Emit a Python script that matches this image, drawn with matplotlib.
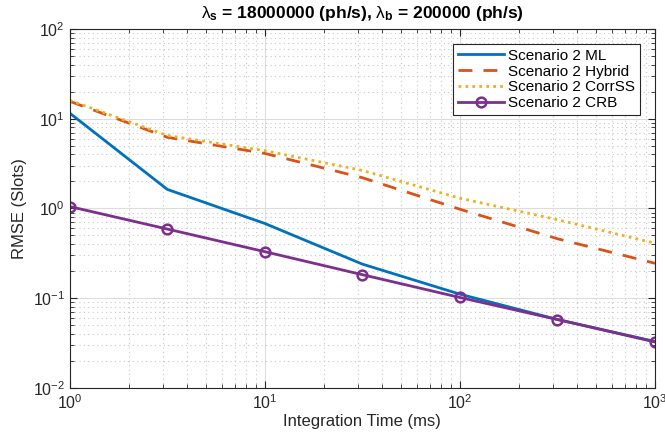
import numpy as np
import matplotlib
matplotlib.use("Agg")
import matplotlib.pyplot as plt

plt.rcParams['font.family'] = ['Liberation Sans', 'DejaVu Sans']
plt.rcParams['mathtext.fontset'] = 'custom'
plt.rcParams['mathtext.rm'] = 'Liberation Sans'
plt.rcParams['mathtext.it'] = 'Liberation Sans:italic'
plt.rcParams['mathtext.bf'] = 'Liberation Sans:bold'

# integration times (ms)
t_ms = [1, 3.16, 10, 31.6, 100, 316, 1000]

rmse_ml = [11.5, 1.63, 0.68, 0.24, 0.111, 0.058, 0.033]
rmse_hybrid = [15.6, 6.2, 4.1, 2.2, 0.98, 0.46, 0.245]
rmse_corrss = [16.0, 6.5, 4.4, 2.65, 1.3, 0.75, 0.41]
rmse_crb = [1.05, 0.59, 0.33, 0.183, 0.102, 0.058, 0.0326]

labels = ['Scenario 2 ML', 'Scenario 2 Hybrid', 'Scenario 2 CorrSS', 'Scenario 2 CRB']

fig = plt.figure(figsize=(6.65, 4.44), dpi=100)
ax = fig.add_axes([0.105, 0.126, 0.88, 0.809])

ax.loglog(t_ms, rmse_ml, color=(0, 0.447, 0.741), lw=2, label=labels[0])
ax.loglog(t_ms, rmse_hybrid, color=(0.85, 0.325, 0.098), lw=2, ls=(0, (5, 4)), label=labels[1])
ax.loglog(t_ms, rmse_corrss, color=(0.929, 0.694, 0.125), lw=2, ls=(0, (1, 1.5)), label=labels[2])
ax.loglog(t_ms, rmse_crb, color=(0.494, 0.184, 0.556), lw=2, marker='o', ms=7,
          mfc='none', mew=1.8, label=labels[3])

ax.set_xlim(1, 1000)
ax.set_ylim(1e-2, 1e2)
ax.grid(True, which='major', color='#dcdcdc', lw=0.8, ls='-')
ax.grid(True, which='minor', color='#c8c8c8', lw=0.8, ls=(0, (1, 3)))
ax.tick_params(which='both', direction='in', top=True, right=True, labelsize=11.5, colors='#262626')
ax.tick_params(which='major', length=5)
ax.tick_params(which='minor', length=3)
for s in ax.spines.values():
    s.set_color('#262626')
    s.set_linewidth(0.8)

ax.set_xlabel('Integration Time (ms)', fontsize=12, color='#262626', labelpad=2)
ax.set_ylabel('RMSE (Slots)', fontsize=12, color='#262626')
ax.set_title(r'$\mathrm{\lambda}_{\mathbf{s}}$ = 18000000 (ph/s), $\mathrm{\lambda}_{\mathbf{b}}$ = 200000 (ph/s)',
             fontsize=12.5, fontweight='bold', pad=8)

leg = ax.legend(loc='upper right', fontsize=11, frameon=True, fancybox=False,
                edgecolor='#262626', framealpha=1, borderaxespad=1.0,
                handlelength=3.0, handletextpad=0.3, labelspacing=0.12, borderpad=0.3)
leg.get_frame().set_linewidth(0.8)

fig.savefig('out.png', dpi=100)
